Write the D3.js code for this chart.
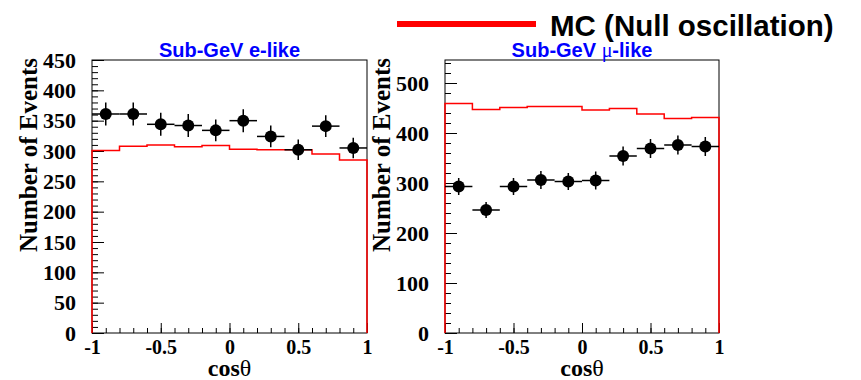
<!DOCTYPE html>
<html lang="en">
<head>
<meta charset="utf-8">
<title>Sub-GeV zenith angle</title>
<script src="https://d3js.org/d3.v7.min.js"></script>
<style>
  body { margin: 0; background: #fff; }
  svg { display: block; }
  .tick text { font-family: "Liberation Serif", "Times New Roman", serif; font-weight: bold; font-size: 22px; fill: #000; }
  .xax .tick text { font-size: 20px; }
  .domain { display: none; }
  .tick line { stroke: #000; stroke-width: 1; }
</style>
</head>
<body>
<div id="chart"></div>
<script>
// bin centres in cos(theta), width 0.2
var binCenters = [-0.9, -0.7, -0.5, -0.3, -0.1, 0.1, 0.3, 0.5, 0.7, 0.9];

// Sub-GeV e-like
var eData  = [361, 361, 344, 342, 334, 350, 324, 302, 341, 305];
var eErr   = [19, 19, 19, 19, 18, 19, 18, 17, 18, 17];
var eMC    = [301, 308, 310, 307, 309, 303, 302, 302, 295, 285];

// Sub-GeV mu-like
var muData = [293, 246, 293, 306, 303, 305, 354, 369, 376, 373];
var muErr  = [17, 16, 17, 18, 17, 18, 19, 19, 19, 19];
var muMC   = [459, 447, 451, 453, 453, 446, 449, 438, 429, 431];

var xTicks = [-1, -0.5, 0, 0.5, 1];
var eTicks = [0, 50, 100, 150, 200, 250, 300, 350, 400, 450];
var muTicks = [0, 100, 200, 300, 400, 500];

var W = 861, H = 380;
var svg = d3.select("#chart").append("svg").attr("width", W).attr("height", H);

// legend
svg.append("line").attr("x1", 397).attr("x2", 536).attr("y1", 24).attr("y2", 24)
  .attr("stroke", "#ff0000").attr("stroke-width", 6);
svg.append("text").attr("x", 550).attr("y", 36)
  .attr("font-family", "Liberation Sans, Arial, sans-serif").attr("font-weight", "bold")
  .attr("font-size", 29.5).text("MC (Null oscillation)");

function panel(left, right, yMax, ticks, minorStep, data, err, mc, title, greek) {
  var top = 60, bottom = 333;
  var x = d3.scaleLinear().domain([-1, 1]).range([left, right]);
  var y = d3.scaleLinear().domain([0, yMax]).range([bottom, top]);
  var g = svg.append("g");

  // frame
  g.append("rect").attr("x", left).attr("y", top).attr("width", right - left).attr("height", bottom - top)
    .attr("fill", "none").attr("stroke", "#000").attr("stroke-width", 1);

  // minor ticks
  var xMinor = d3.range(-1, 1.0001, 0.1).map(function(v) { return Math.round(v * 10) / 10; });
  g.append("g").attr("transform", "translate(0," + bottom + ")")
    .call(d3.axisBottom(x).tickValues(xMinor).tickSize(-5).tickFormat(""));
  var yMinor = d3.range(0, yMax + 0.001, minorStep);
  g.append("g").attr("transform", "translate(" + left + ",0)")
    .call(d3.axisLeft(y).tickValues(yMinor).tickSize(-6).tickFormat(""));

  // major ticks with labels
  g.append("g").attr("class", "xax").attr("transform", "translate(0," + bottom + ")")
    .call(d3.axisBottom(x).tickValues(xTicks).tickSize(-10).tickPadding(21)
      .tickFormat(function(d) { return String(d); }))
    .selectAll("text").attr("dy", "0");
  g.append("g").attr("transform", "translate(" + left + ",0)")
    .call(d3.axisLeft(y).tickValues(ticks).tickSize(-12).tickPadding(16));

  // MC histogram
  var pts = [[-1, 0]];
  mc.forEach(function(v, i) {
    pts.push([binCenters[i] - 0.1, v]);
    pts.push([binCenters[i] + 0.1, v]);
  });
  pts.push([1, 0]);
  g.append("path").attr("d", d3.line().x(function(d) { return x(d[0]); }).y(function(d) { return y(d[1]); })(pts))
    .attr("fill", "none").attr("stroke", "#ff0000").attr("stroke-width", 1.5);

  // data points
  var pt = g.selectAll(".pt").data(data).enter().append("g");
  pt.append("line")
    .attr("x1", function(d, i) { return x(binCenters[i] - 0.1); })
    .attr("x2", function(d, i) { return x(binCenters[i] + 0.1); })
    .attr("y1", function(d) { return y(d); }).attr("y2", function(d) { return y(d); })
    .attr("stroke", "#000").attr("stroke-width", 1.5);
  pt.append("line")
    .attr("x1", function(d, i) { return x(binCenters[i]); })
    .attr("x2", function(d, i) { return x(binCenters[i]); })
    .attr("y1", function(d, i) { return y(d - err[i]); })
    .attr("y2", function(d, i) { return y(d + err[i]); })
    .attr("stroke", "#000").attr("stroke-width", 1.5);
  pt.append("circle")
    .attr("cx", function(d, i) { return x(binCenters[i]); })
    .attr("cy", function(d) { return y(d); })
    .attr("r", 6).attr("fill", "#000");

  // title
  var t = svg.append("text").attr("x", (left + right) / 2).attr("y", 57).attr("text-anchor", "middle")
    .attr("font-family", "Liberation Sans, Arial, sans-serif").attr("font-weight", "bold")
    .attr("font-size", 20).attr("fill", "#0000ff");
  t.append("tspan").text(title[0]);
  if (greek) {
    t.append("tspan").attr("font-family", "Liberation Serif, serif").attr("font-weight", "normal").text(greek);
  }
  t.append("tspan").text(title[1]);

  // axis titles
  var xt = svg.append("text").attr("x", (left + right) / 2).attr("y", 376).attr("text-anchor", "middle")
    .attr("font-family", "Liberation Serif, serif").attr("font-size", 24);
  xt.append("tspan").attr("font-weight", "bold").text("cos");
  xt.append("tspan").text("\u03b8");

  svg.append("text")
    .attr("transform", "translate(" + (left - 55) + "," + (top - 2) + ") rotate(-90)")
    .attr("text-anchor", "end")
    .attr("font-family", "Liberation Serif, serif").attr("font-weight", "bold").attr("font-size", 25)
    .text("Number of Events");
}

panel(92, 367, 450, eTicks, 10, eData, eErr, eMC, ["Sub-GeV e-like", ""], null);
panel(445, 719, 546, muTicks, 20, muData, muErr, muMC, ["Sub-GeV ", "-like"], "\u03bc");
</script>
</body>
</html>
